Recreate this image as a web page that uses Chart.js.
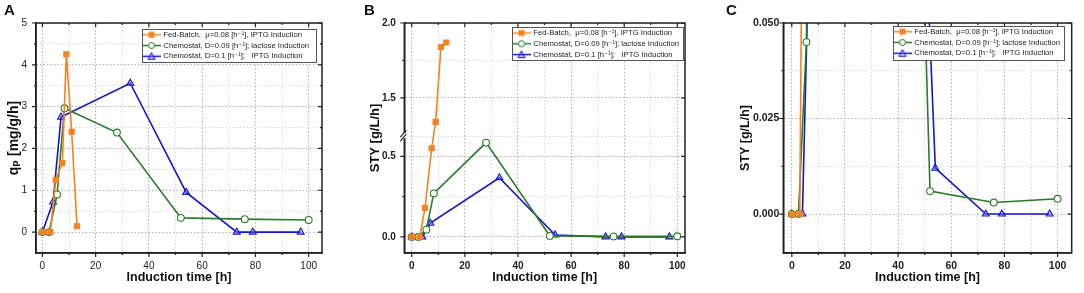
<!DOCTYPE html>
<html><head><meta charset="utf-8">
<script src="https://cdn.jsdelivr.net/npm/chart.js@4.4.1/dist/chart.umd.min.js"></script>
<style>
html,body{margin:0;padding:0;background:#fff;width:1084px;height:293px;overflow:hidden;}
.panel{position:absolute;top:0;}
.letter{position:absolute;top:1px;font:bold 15px 'Liberation Sans',Arial,sans-serif;color:#111;}
</style></head><body>
<div class="panel" style="left:0px"><canvas id="cA" width="360" height="293"></canvas></div>
<div class="panel" style="left:360px"><canvas id="cB" width="360" height="293"></canvas></div>
<div class="panel" style="left:720px"><canvas id="cC" width="364" height="293"></canvas></div>
<div class="letter" style="left:4px">A</div>
<div class="letter" style="left:364px">B</div>
<div class="letter" style="left:726px">C</div>
<script>
// ---------------- DATA ----------------
const seriesLabels = [
  'Fed-Batch,  \u03bc=0.08 [h\u207b\u00b9], IPTG Induction',
  'Chemostat, D=0.09 [h\u207b\u00b9]; lactose Induction',
  'Chemostat, D=0.1 [h\u207b\u00b9];   IPTG Induction'
];
// Fed-batch, IPTG
const timeFedBatch = [0, 3, 5, 7.5, 9, 11, 13];
const qpFedBatch   = [0, 0, 1.25, 1.65, 4.25, 2.4, 0.14];
const styFedBatch  = [0, 0, 0.18, 0.55, 1.34, 1.84, 1.87];
// Chemostat D=0.09, lactose
const timeChemoLactose = [0, 2.5, 5.5, 8.3, 28, 52, 76, 100];
const qpChemoLactose   = [0, 0, 0.9, 2.96, 2.38, 0.34, 0.31, 0.29];
const styChemoLactose  = [0, 0, 0.045, 0.27, 0.585, 0.006, 0.003, 0.004];
// Chemostat D=0.1, IPTG
const timeChemoIptg = [0, 4, 7, 33, 54, 73, 79, 97];
const qpChemoIptg   = [0, 0.72, 2.75, 3.56, 0.95, 0, 0, 0];
const styChemoIptg  = [0, 0, 0.085, 0.367, 0.012, 0, 0, 0];
// ticks
const timeTicks = [0, 10, 20, 30, 40, 50, 60, 70, 80, 90, 100];
const timeMajor = [0, 20, 40, 60, 80, 100];
const qpTicks = [0, 0.5, 1, 1.5, 2, 2.5, 3, 3.5, 4, 4.5, 5];
const qpMajor = [0, 1, 2, 3, 4, 5];
const breakLow = 0.625, breakHigh = 1.245;   // axis break of panel B
const styTicksB = [0, 0.25, 0.5, breakLow, 1.5, 1.75, 2.0];
const styMajorB = [0, 0.5, 1.5, 2.0];
const styTicksC = [0, 0.0125, 0.025, 0.0375, 0.05];
const styMajorC = [0, 0.025, 0.05];

// ---------------- STYLE ----------------
const FONT = "'Liberation Sans', 'DejaVu Sans', Arial, sans-serif";
const ORANGE = '#F58220', GREEN = '#2A7A2A', BLUE = '#1515C8';
const TRI_FILL = 'rgba(110,110,255,0.45)';
const GRID_MAJOR = '#b0b0b0', GRID_MINOR = '#d9d9d9';
const BREAK_FRAC = 0.508;
const LEG_FONT = 7.7, LEG_PAD = 3.1;

// broken linear scale (panel B)
class BrokenLinearScale extends Chart.LinearScale {
  getPixelForValue(value) {
    if (value === null || value === undefined || isNaN(value)) return NaN;
    const lo = this.min, hi = this.max;
    let dec;
    if (value <= breakLow) dec = (value - lo) / (breakLow - lo) * BREAK_FRAC;
    else if (value >= breakHigh) dec = BREAK_FRAC + (value - breakHigh) / (hi - breakHigh) * (1 - BREAK_FRAC);
    else dec = BREAK_FRAC;
    return this.getPixelForDecimal(dec);
  }
  getValueForPixel(pixel) {
    const dec = this.getDecimalForPixel(pixel);
    if (dec <= BREAK_FRAC) return this.min + dec / BREAK_FRAC * (breakLow - this.min);
    return breakHigh + (dec - BREAK_FRAC) / (1 - BREAK_FRAC) * (this.max - breakHigh);
  }
}
BrokenLinearScale.id = 'brokenLinear';
BrokenLinearScale.defaults = Chart.LinearScale.defaults;
Chart.register(BrokenLinearScale);

function pts(xs, ys) { return xs.map((x, i) => ({x: x, y: ys[i]})); }

function legendSymbol(color, style, fill) {
  const c = document.createElement('canvas'); c.width = 18; c.height = 9;
  const g = c.getContext('2d');
  g.strokeStyle = color; g.lineWidth = 1.5;
  g.beginPath(); g.moveTo(0, 4.5); g.lineTo(18, 4.5); g.stroke();
  g.lineWidth = 1;
  g.beginPath();
  if (style === 'rect') { g.fillStyle = color; g.fillRect(6, 1.5, 6, 6); }
  else if (style === 'circle') { g.fillStyle = fill; g.arc(9, 4.5, 3, 0, 2 * Math.PI); g.fill(); g.stroke(); }
  else { g.fillStyle = fill; g.moveTo(9, 0.8); g.lineTo(12.6, 7.6); g.lineTo(5.4, 7.6); g.closePath(); g.fill(); g.stroke(); }
  return c;
}
const symbols = [legendSymbol(ORANGE, 'rect', ORANGE), legendSymbol(GREEN, 'circle', '#fff'), legendSymbol(BLUE, 'triangle', TRI_FILL)];

function makeDatasets(yFB, yCL, yCI) {
  const common = {borderWidth: 1.6, tension: 0, clip: 0, pointBorderWidth: 1.1};
  return [
    Object.assign({label: seriesLabels[0], data: pts(timeFedBatch, yFB), borderColor: ORANGE, backgroundColor: ORANGE,
      pointStyle: 'rect', pointRadius: 3.6, pointBackgroundColor: ORANGE, pointBorderColor: ORANGE}, common),
    Object.assign({label: seriesLabels[1], data: pts(timeChemoLactose, yCL), borderColor: GREEN, backgroundColor: '#fff',
      pointStyle: 'circle', pointRadius: 3.4, pointBackgroundColor: '#fff', pointBorderColor: GREEN}, common),
    Object.assign({label: seriesLabels[2], data: pts(timeChemoIptg, yCI), borderColor: BLUE, backgroundColor: TRI_FILL,
      pointStyle: 'triangle', pointRadius: 4, pointBackgroundColor: TRI_FILL, pointBorderColor: BLUE}, common)
  ];
}

function legendBoxPlugin(box) {
  return {
    id: 'legendBox',
    beforeUpdate(chart) {
      const lg = chart.legend;
      if (!lg || lg._boxPatched) return;
      lg._boxPatched = true;
      const proto = Object.getPrototypeOf(lg);
      lg.fit = function () { proto.fit.call(this); this.width = 0; };
      lg._layers = function () {
        return [{z: 5, draw: () => {
          const a = chart.chartArea, ctx = chart.ctx;
          const L = a.right - box.rightGap - box.width, T = a.top + box.topGap;
          ctx.save();
          ctx.fillStyle = '#fff'; ctx.fillRect(L, T, box.width, box.height);
          ctx.strokeStyle = '#555'; ctx.lineWidth = 1;
          ctx.strokeRect(Math.round(L) + 0.5, Math.round(T) + 0.5, Math.round(box.width) - 1, Math.round(box.height) - 1);
          ctx.restore();
          lg.left = L - 1.6; lg.top = T - 1.25; lg.right = L + box.width - 1; lg.bottom = T + box.height + 20;
          lg.width = lg.right - lg.left; lg.height = lg.bottom - lg.top;
          lg.draw();
        }}];
      };
    }
  };
}

function framePlugin(cfg) {
  return {
    id: 'frame',
    afterDatasetsDraw(chart) {
      const {ctx, chartArea: a, scales} = chart;
      const xs = scales.x, ys = scales.y;
      ctx.save();
      ctx.strokeStyle = '#222';
      ctx.lineWidth = 1.2;
      ctx.beginPath();
      xs.ticks.forEach(t => {
        const px = xs.getPixelForValue(t.value);
        const L = timeMajor.includes(t.value) ? 4 : 2;
        ctx.moveTo(px, a.top); ctx.lineTo(px, a.top + L);
        ctx.moveTo(px, a.bottom); ctx.lineTo(px, a.bottom + L);
      });
      ys.ticks.forEach(t => {
        if (cfg.skipY && cfg.skipY.includes(t.value)) return;
        const py = ys.getPixelForValue(t.value);
        const L = cfg.yMajor.includes(t.value) ? 4 : 2;
        ctx.moveTo(a.right, py); ctx.lineTo(a.right - L, py);
        ctx.moveTo(a.left, py); ctx.lineTo(a.left - L, py);
      });
      ctx.stroke();
      ctx.lineWidth = 1.5;
      ctx.strokeRect(a.left, a.top, a.right - a.left, a.bottom - a.top);
      if (cfg.brk) {
        const py = ys.getPixelForValue(breakLow);
        ctx.fillStyle = '#fff';
        ctx.fillRect(a.left - 4, py - 3, 8, 5);
        ctx.lineWidth = 1.2;
        ctx.beginPath();
        ctx.moveTo(a.left - 4, py + 1); ctx.lineTo(a.left + 2, py - 6);
        ctx.moveTo(a.left - 4, py + 5); ctx.lineTo(a.left + 2, py - 2);
        ctx.stroke();
      }
      ctx.restore();
    }
  };
}

function makeChart(id, p) {
  const tickFont = {family: FONT, size: p.tickSize, weight: p.tickBold ? 'bold' : 'normal'};
  return new Chart(document.getElementById(id), {
    type: 'line',
    data: {datasets: makeDatasets(p.yFB, p.yCL, p.yCI)},
    options: {
      responsive: false, animation: false, events: [],
      layout: {padding: {top: 23, right: p.padRight, left: 0, bottom: 0}},
      scales: {
        x: {
          type: 'linear', min: p.xMin, max: p.xMax,
          afterBuildTicks: s => { s.ticks = timeTicks.map(v => ({value: v})); },
          afterFit: s => { s.height = 40; },
          ticks: {autoSkip: false, maxRotation: 0, padding: 3, color: '#222', font: tickFont,
            callback: v => timeMajor.includes(v) ? String(v) : ''},
          grid: {color: c => (c.tick && timeMajor.includes(c.tick.value)) ? GRID_MAJOR : GRID_MINOR,
            lineWidth: 1, drawTicks: true, tickLength: 4, tickColor: 'rgba(0,0,0,0)'},
          border: {display: true, color: '#222', width: 1.5, dash: [1.5, 2]},
          title: {display: true, text: 'Induction time [h]', color: '#111',
            font: {family: FONT, size: 12.5, weight: 'bold'}, padding: {top: 0, bottom: 8}}
        },
        y: {
          type: p.yType, min: p.yMin, max: p.yMax,
          afterBuildTicks: s => { s.ticks = p.yTicks.map(v => ({value: v})); },
          afterFit: s => { s.width = p.yWidth; },
          ticks: {autoSkip: false, padding: p.yPad, color: '#222', font: tickFont,
            callback: v => p.yMajor.includes(v) ? p.fmt(v) : ''},
          grid: {color: c => (c.tick && p.yMajor.includes(c.tick.value)) ? GRID_MAJOR : GRID_MINOR,
            lineWidth: 1, drawTicks: true, tickLength: p.yTickLen, tickColor: 'rgba(0,0,0,0)'},
          border: {display: true, color: '#222', width: 1.5, dash: [1.5, 2]},
          title: {display: true, text: p.yTitle, color: '#111',
            font: {family: FONT, size: p.yTitleSize, weight: 'bold'}, padding: {top: p.yTitlePad, bottom: 0}}
        }
      },
      plugins: {
        tooltip: {enabled: false},
        legend: {
          display: true, position: 'right', align: 'start',
          labels: {usePointStyle: true, pointStyleWidth: 16, boxHeight: LEG_FONT, padding: LEG_PAD,
            font: {family: FONT, size: LEG_FONT}, color: '#222',
            generateLabels: ch => ch.data.datasets.map((ds, i) => ({
              text: ds.label, pointStyle: symbols[i], fillStyle: 'rgba(0,0,0,0)', strokeStyle: 'rgba(0,0,0,0)',
              lineWidth: 0, hidden: false, datasetIndex: i, fontColor: '#222'}))}
        }
      }
    },
    plugins: [legendBoxPlugin(p.legend), framePlugin({yMajor: p.yMajor, brk: p.brk, skipY: p.skipY})]
  });
}

makeChart('cA', {
  yFB: qpFedBatch, yCL: qpChemoLactose, yCI: qpChemoIptg,
  xMin: -2.4, xMax: 105, padRight: 38,
  yType: 'linear', yMin: -0.5, yMax: 5, yTicks: qpTicks, yMajor: qpMajor, fmt: v => String(v),
  yWidth: 36, yPad: 5, yTickLen: 4, tickSize: 10, tickBold: false,
  yTitle: 'q\u209a [mg/g/h]', yTitleSize: 14, yTitlePad: 6,
  legend: {width: 175, height: 34, rightGap: 5, topGap: 6}
});
makeChart('cB', {
  yFB: styFedBatch, yCL: styChemoLactose, yCI: styChemoIptg,
  xMin: -2.8, xMax: 102.9, padRight: 35,
  yType: 'brokenLinear', yMin: -0.1, yMax: 2.0, yTicks: styTicksB, yMajor: styMajorB, fmt: v => v.toFixed(1),
  yWidth: 44.3, yPad: 4.5, yTickLen: 4, tickSize: 10, tickBold: true, brk: true, skipY: [breakLow],
  yTitle: 'STY [g/L/h]', yTitleSize: 13, yTitlePad: 8,
  legend: {width: 172, height: 34, rightGap: 1, topGap: 4.3}
});
makeChart('cC', {
  yFB: styFedBatch, yCL: styChemoLactose, yCI: styChemoIptg,
  xMin: -3.2, xMax: 105.3, padRight: 12.3,
  yType: 'linear', yMin: -0.0102, yMax: 0.05, yTicks: styTicksC, yMajor: styMajorC, fmt: v => v.toFixed(3),
  yWidth: 63.3, yPad: 1, yTickLen: 3, tickSize: 10.5, tickBold: true,
  yTitle: 'STY [g/L/h]', yTitleSize: 12.5, yTitlePad: 18,
  legend: {width: 172, height: 35, rightGap: 6.7, topGap: 3}
});
</script>
</body></html>
